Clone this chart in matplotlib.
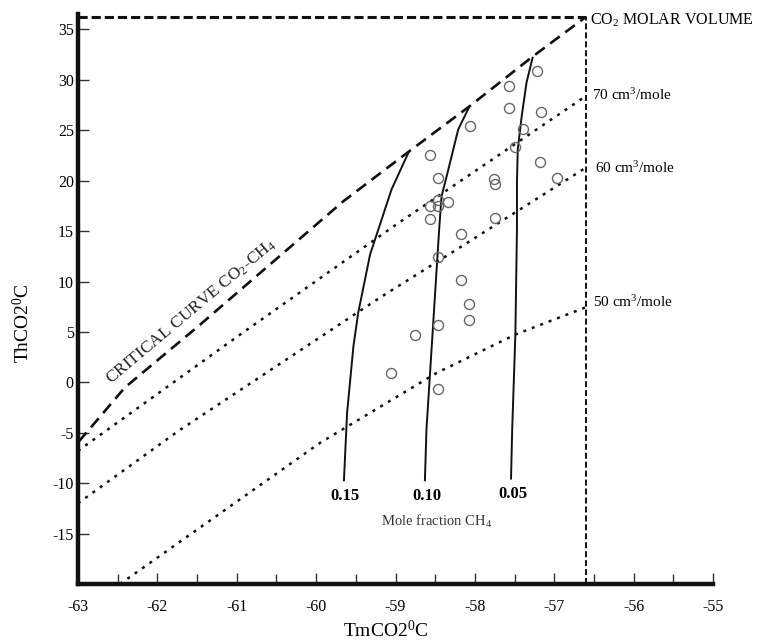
import matplotlib
matplotlib.use('Agg')
import matplotlib.pyplot as plt

plt.rcParams['font.family'] = ['Liberation Serif', 'DejaVu Serif']
plt.rcParams['mathtext.fontset'] = 'custom'
plt.rcParams['mathtext.rm'] = 'Liberation Serif'
plt.rcParams['mathtext.it'] = 'Liberation Serif:italic'
plt.rcParams['mathtext.bf'] = 'Liberation Serif:bold'
plt.rcParams['axes.unicode_minus'] = False

# ---------------- data ----------------
inclusion_tm = [-57.22, -57.57, -57.57, -57.17, -58.06, -57.40, -57.49, -58.57, -57.18,
                -58.47, -57.76, -57.75, -56.97, -58.46, -58.34, -58.57, -58.46, -58.56,
                -57.75, -58.18, -58.47, -58.18, -58.07, -58.08, -58.47, -58.76, -59.06,
                -58.47]
inclusion_th = [30.86, 29.38, 27.23, 26.77, 25.41, 25.08, 23.36, 22.50, 21.84,
                20.22, 20.19, 19.69, 20.25, 18.07, 17.87, 17.45, 17.45, 16.15,
                16.25, 14.73, 12.45, 10.13, 7.79, 6.23, 5.73, 4.74, 0.94,
                -0.62]

critical_tm = [-62.99, -62.72, -62.41, -61.46, -59.66, -58.83, -58.07, -57.27, -56.61]
critical_th = [-5.87, -3.39, -0.52, 5.73, 17.94, 22.90, 27.36, 32.32, 36.19]

iso70_tm = [-63.0, -61.0, -59.0, -56.6]
iso70_th = [-6.8, 4.5, 15.6, 28.4]
iso60_tm = [-63.0, -61.74, -59.2, -58.23, -56.6]
iso60_th = [-12.0, -4.85, 8.38, 13.17, 21.3]
iso50_tm = [-62.47, -59.95, -58.48, -57.49, -56.6]
iso50_th = [-20.0, -6.0, 0.94, 4.74, 7.45]

x015_tm = [-58.83, -59.05, -59.32, -59.47, -59.53, -59.61, -59.65]
x015_th = [22.9, 19.13, 12.68, 6.89, 3.58, -3.03, -9.81]
x010_tm = [-58.07, -58.21, -58.355, -58.42, -58.45, -58.53, -58.61, -58.63]
x010_th = [27.33, 25.08, 20.45, 18.46, 15.16, 5.24, -4.68, -9.81]
x005_tm = [-57.27, -57.35, -57.41, -57.46, -57.47, -57.47, -57.49, -57.53, -57.545]
x005_th = [32.29, 29.71, 26.40, 23.10, 19.82, 15.16, 4.74, -4.68, -9.64]

limit_tm = -56.6
limit_th = 36.2

x_ticks = [-63, -62, -61, -60, -59, -58, -57, -56, -55]
y_ticks = [-15, -10, -5, 0, 5, 10, 15, 20, 25, 30, 35]
x_minor = [-62.5, -61.5, -60.5, -59.5, -58.5, -57.5, -56.5, -55.5]

# ---------------- figure ----------------
fig = plt.figure(figsize=(7.63, 6.42), dpi=100)
ax = fig.add_axes([0.1022, 0.09034, 0.8323, 0.8874])
ax.set_xlim(-63, -55)
ax.set_ylim(-20, 36.5)

for s in ('top', 'right'):
    ax.spines[s].set_visible(False)
for s in ('left', 'bottom'):
    ax.spines[s].set_linewidth(3.2)
    ax.spines[s].set_color('#111111')

ax.set_xticks(x_ticks)
ax.set_xticks(x_minor, minor=True)
ax.set_yticks(y_ticks)
ax.tick_params(axis='both', which='both', direction='in', width=1, color='#333333')
ax.tick_params(axis='both', which='major', length=8, labelsize=11.5)
ax.tick_params(axis='x', which='minor', length=7)
ax.tick_params(axis='x', which='major', pad=11)
ax.tick_params(axis='y', which='major', pad=3)

# molar volume boundary (dashed box)
ax.plot([-63, limit_tm], [limit_th, limit_th], color='#111111', lw=2.2,
        linestyle=(0, (3, 1.3)), clip_on=False)
ax.plot([limit_tm, limit_tm], [-20, limit_th], color='#111111', lw=1.4,
        linestyle=(0, (3.1, 1.5)), clip_on=False)

# critical curve
ax.plot(critical_tm, critical_th, color='#111111', lw=1.9,
        linestyle=(0, (4.5, 2.6)), clip_on=False)

# isochores
for tm, th in ((iso70_tm, iso70_th), (iso60_tm, iso60_th), (iso50_tm, iso50_th)):
    ax.plot(tm, th, color='#111111', lw=1.8, linestyle=(0, (1.2, 2.4)))

# mole fraction curves
for tm, th in ((x015_tm, x015_th), (x010_tm, x010_th), (x005_tm, x005_th)):
    ax.plot(tm, th, color='#111111', lw=1.4, solid_capstyle='butt')

# inclusions
ax.plot(inclusion_tm, inclusion_th, linestyle='none', marker='o', markersize=7.2,
        markerfacecolor='none', markeredgecolor='#666666', markeredgewidth=1.0)

# texts
ax.text(-56.55, 35.92, r'CO$_2$ MOLAR VOLUME', fontsize=11.5, ha='left', va='center')
ax.text(-56.52, 28.48, r'70 cm$^3$/mole', fontsize=11, ha='left', va='center')
ax.text(-56.49, 21.28, r'60 cm$^3$/mole', fontsize=11, ha='left', va='center')
ax.text(-56.51, 7.95, r'50 cm$^3$/mole', fontsize=11, ha='left', va='center')

ax.text(-61.57, 7.0, r'CRITICAL CURVE CO$_2$-CH$_4$', fontsize=12.5, rotation=40,
        ha='center', va='center', rotation_mode='anchor', color='#222222')

ax.text(-59.64, -11.23, '0.15', fontsize=12, fontweight='bold', ha='center', va='center')
ax.text(-58.61, -11.3, '0.10', fontsize=12, fontweight='bold', ha='center', va='center')
ax.text(-57.52, -11.03, '0.05', fontsize=12, fontweight='bold', ha='center', va='center')
ax.text(-58.48, -13.84, r'Mole fraction CH$_4$', fontsize=10.5, ha='center', va='center',
        color='#333333')

fig.text(386 / 763, 1 - 630 / 642, r'TmCO2$^0$C', fontsize=14, ha='center', va='center')
fig.text(23 / 763, 1 - 323 / 642, r'ThCO2$^0$C', fontsize=14, ha='center', va='center',
         rotation=90)

fig.savefig('out.png', dpi=100)
